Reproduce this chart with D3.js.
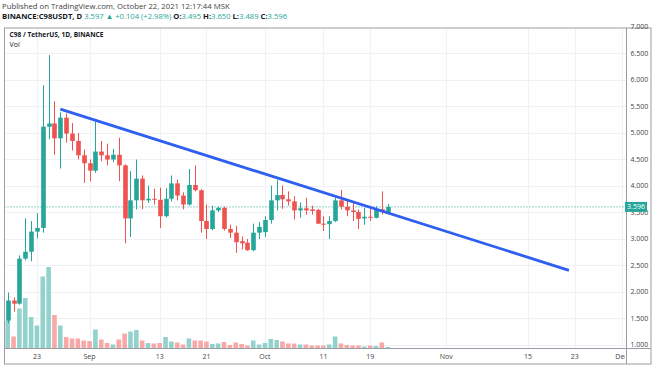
<!DOCTYPE html>
<html><head><meta charset="utf-8">
<script src="https://cdn.jsdelivr.net/npm/d3@7/dist/d3.min.js"></script>
<style>
html,body{margin:0;padding:0;background:#fff;}
svg{display:block;font-family:"Open Sans",sans-serif;}
</style></head>
<body><svg id="c" width="654" height="366"></svg>
<script>
// ---- data ----
const startDate = "2021-08-18"; // first candle; one candle per day
const opens  = [1.45,1.83,1.77,2.62,2.75,3.13,3.20,5.11,5.17,4.89,5.28,4.98,4.84,4.57,4.42,4.28,4.64,4.57,4.49,4.58,4.38,3.38,3.72,4.13,3.72,3.75,3.73,3.42,3.75,4.04,3.81,3.64,4.01,3.91,3.33,3.18,3.53,3.58,3.18,3.11,2.95,2.92,2.78,3.11,3.12,3.35,3.72,3.82,3.74,3.70,3.53,3.57,3.55,3.54,3.28,3.27,3.33,3.72,3.60,3.53,3.50,3.38,3.41,3.39,3.55,3.495];
const highs  = [1.98,1.89,2.68,3.38,3.33,3.48,5.89,6.46,5.59,5.38,5.36,5.18,4.99,4.68,4.49,5.21,4.84,4.79,4.69,4.90,4.40,4.27,4.49,4.19,4.00,3.94,3.96,3.95,4.19,4.11,3.87,4.31,4.38,3.93,3.64,3.62,3.60,3.60,3.26,3.24,3.04,2.99,3.28,3.31,3.42,4.00,4.11,4.00,3.89,3.80,3.68,3.77,3.62,3.56,3.42,3.42,3.77,3.92,3.72,3.67,3.55,3.58,3.56,3.61,3.89,3.650];
const lows   = [1.40,1.62,1.75,2.59,2.57,3.00,3.11,4.87,4.58,4.32,4.81,4.66,4.49,4.05,4.08,4.24,4.46,4.38,4.44,4.08,2.91,3.03,3.55,3.55,3.67,3.64,3.20,3.40,3.70,3.72,3.55,3.62,3.89,3.11,2.99,3.16,3.50,3.15,3.01,2.73,2.79,2.77,2.76,2.99,3.03,3.28,3.53,3.56,3.62,3.36,3.39,3.45,3.45,3.27,3.14,2.99,3.31,3.55,3.42,3.33,3.18,3.26,3.33,3.38,3.45,3.489];
const closes = [1.83,1.77,2.62,2.75,3.13,3.20,5.11,5.17,4.89,5.28,4.98,4.84,4.57,4.42,4.28,4.64,4.57,4.49,4.58,4.38,3.38,3.72,4.13,3.72,3.75,3.73,3.42,3.75,4.04,3.81,3.64,4.01,3.91,3.33,3.18,3.53,3.58,3.18,3.11,2.93,2.91,2.78,3.11,3.22,3.35,3.72,3.82,3.74,3.70,3.53,3.57,3.53,3.52,3.28,3.26,3.33,3.72,3.60,3.53,3.50,3.37,3.41,3.39,3.55,3.50,3.596];
const volumes = [55,23,79,100,62,45,143,162,66,45,22,19,19,15,14,37,17,10,7,17,29,33,36,15,10,9,10,22,13,11,7,19,15,15,13,8,9,12,6,11,8,5,15,7,10,18,16,13,9,9,7,7,5,5,5,7,23,9,6,5,5,3,5,4,11,2]; // millions
const volUp = [1,0,1,1,1,1,1,1,0,1,0,0,0,0,0,1,0,0,1,0,0,1,1,0,1,0,0,1,1,0,0,1,0,0,0,1,1,0,0,0,0,0,1,1,1,1,1,0,0,0,1,0,0,0,0,1,1,0,0,0,0,1,0,1,0,1];
const yTicks = [1.0,1.5,2.0,2.5,3.0,3.5,4.0,4.5,5.0,5.5,6.0,6.5,7.0];
const xTickDates  = ["2021-08-23","2021-09-01","2021-09-13","2021-09-21","2021-10-01","2021-10-11","2021-10-19","2021-11-01","2021-11-15","2021-11-23","2021-12-01"];
const xTickLabels = ["23","Sep","13","21","Oct","11","19","Nov","15","23","Dec"];
const trendDates  = ["2021-08-27","2021-11-22"];
const trendValues = [5.44,2.40];
const lastPrice = 3.596;

// ---- layout ----
const svg = d3.select("#c");
const L = 4.5, R = 626, T = 28, B = 348, FR = 651, FB = 364;
const day = 864e5;
const t0 = new Date(startDate + "T00:00:00Z");
const n = opens.length;
const dates = d3.range(n).map(i => new Date(t0.getTime() + i*day));
const x = d3.scaleUtc().domain([dates[0], dates[n-1]]).range([7.7, 387.7]);
const y = d3.scaleLinear().domain([1, 7]).range([344.5, 26.5]);
const yVol = d3.scaleLinear().domain([0, 200]).range([B, B-100]);
const up = "#26a69a", dn = "#ef5350";
const upV = "#93d2cc", dnV = "#f7a9a7";

svg.append("defs").append("clipPath").attr("id","plot")
  .append("rect").attr("x",L).attr("y",T).attr("width",R-L).attr("height",B-T);
svg.append("defs").append("clipPath").attr("id","xax")
  .append("rect").attr("x",L).attr("y",B).attr("width",R-L-1).attr("height",FB-B);

// grid
const grid = svg.append("g").attr("clip-path","url(#plot)");
grid.selectAll("line.h").data(yTicks).join("line")
  .attr("x1",L).attr("x2",R).attr("y1",d=>Math.round(y(d))+0.5).attr("y2",d=>Math.round(y(d))+0.5)
  .attr("stroke","#f0f1f4");
const xt = xTickDates.map(s => new Date(s+"T00:00:00Z"));
grid.selectAll("line.v").data(xt).join("line")
  .attr("y1",T).attr("y2",B).attr("x1",d=>Math.round(x(d))+0.5).attr("x2",d=>Math.round(x(d))+0.5)
  .attr("stroke","#f0f1f4");

const plot = svg.append("g").attr("clip-path","url(#plot)");
// volume
const bw = 4.6;
plot.selectAll("rect.vol").data(volumes).join("rect")
  .attr("x",(d,i)=>x(dates[i])-bw/2).attr("width",bw)
  .attr("y",d=>yVol(d)).attr("height",d=>B-yVol(d))
  .attr("fill",(d,i)=>volUp[i]?upV:dnV);

// price line
plot.append("line").attr("x1",L).attr("x2",R)
  .attr("y1",y(lastPrice)).attr("y2",y(lastPrice))
  .attr("stroke",up).attr("stroke-width",1).attr("stroke-dasharray","1,2");

// candles
const cg = plot.selectAll("g.c").data(d3.range(n)).join("g");
cg.append("line")
  .attr("x1",i=>Math.round(x(dates[i]))+0.5).attr("x2",i=>Math.round(x(dates[i]))+0.5)
  .attr("y1",i=>y(highs[i])).attr("y2",i=>y(lows[i]))
  .attr("stroke",i=>closes[i]>=opens[i]?up:dn).attr("stroke-width",1);
cg.append("rect")
  .attr("x",i=>Math.round(x(dates[i]))+0.5-2.3).attr("width",4.6)
  .attr("y",i=>y(Math.max(opens[i],closes[i])))
  .attr("height",i=>Math.max(1,Math.abs(y(opens[i])-y(closes[i]))))
  .attr("fill",i=>closes[i]>=opens[i]?up:dn);

// trend line
plot.append("line")
  .attr("x1",x(new Date(trendDates[0]+"T00:00:00Z"))).attr("y1",y(trendValues[0]))
  .attr("x2",x(new Date(trendDates[1]+"T00:00:00Z"))).attr("y2",y(trendValues[1]))
  .attr("stroke","#2e5ff0").attr("stroke-width",2.8).attr("stroke-linecap","butt");

// frame
svg.append("rect").attr("x",L).attr("y",T).attr("width",FR-L).attr("height",FB-T)
  .attr("fill","none").attr("stroke","#9a9da5").attr("stroke-width",1);
svg.append("line").attr("x1",R+0.5).attr("x2",R+0.5).attr("y1",T).attr("y2",FB).attr("stroke","#9a9da5");
svg.append("line").attr("x1",L).attr("x2",FR).attr("y1",B+0.5).attr("y2",B+0.5).attr("stroke","#9a9da5");

// y axis labels
svg.append("g").selectAll("text").data(yTicks).join("text")
  .attr("x",630.5).attr("y",d=>y(d)+2.5).attr("font-size",7).attr("fill","#444")
  .text(d=>d3.format(".3f")(d));

// last price label
svg.append("rect").attr("x",625).attr("y",y(lastPrice)-5).attr("width",22).attr("height",10).attr("fill",up);
svg.append("text").attr("x",636).attr("y",y(lastPrice)+2.5).attr("text-anchor","middle")
  .attr("font-size",7).attr("fill","#fff").text(d3.format(".3f")(lastPrice));

// x axis labels
svg.append("g").attr("clip-path","url(#xax)").selectAll("text").data(xTickLabels).join("text")
  .attr("x",(d,i)=>x(xt[i])).attr("y",359).attr("text-anchor","middle")
  .attr("font-size",7).attr("fill","#444").text(d=>d);

// header texts
svg.append("text").attr("x",2).attr("y",8.5).attr("font-size",7.75).attr("fill","#444")
  .text("Published on TradingView.com, October 22, 2021 12:17:44 MSK");
const h2 = svg.append("text").attr("x",2).attr("y",19).attr("font-size",7.65).attr("fill","#131722");
h2.append("tspan").attr("font-weight","bold").text("BINANCE:C98USDT, D ");
h2.append("tspan").attr("fill",up).text("3.597 ▲ +0.104 (+2.98%) ");
h2.append("tspan").attr("font-weight","bold").text("O:");
h2.append("tspan").attr("fill",up).text("3.495 ");
h2.append("tspan").attr("font-weight","bold").text("H:");
h2.append("tspan").attr("fill",up).text("3.650 ");
h2.append("tspan").attr("font-weight","bold").text("L:");
h2.append("tspan").attr("fill",up).text("3.489 ");
h2.append("tspan").attr("font-weight","bold").text("C:");
h2.append("tspan").attr("fill",up).text("3.596");
svg.append("text").attr("x",9.5).attr("y",37).attr("font-size",6.6).attr("font-weight","bold").attr("fill","#131722")
  .text("C98 / TetherUS, 1D, BINANCE");
svg.append("text").attr("x",9.5).attr("y",47).attr("font-size",7).attr("fill","#131722").text("Vol");
</script></body></html>
